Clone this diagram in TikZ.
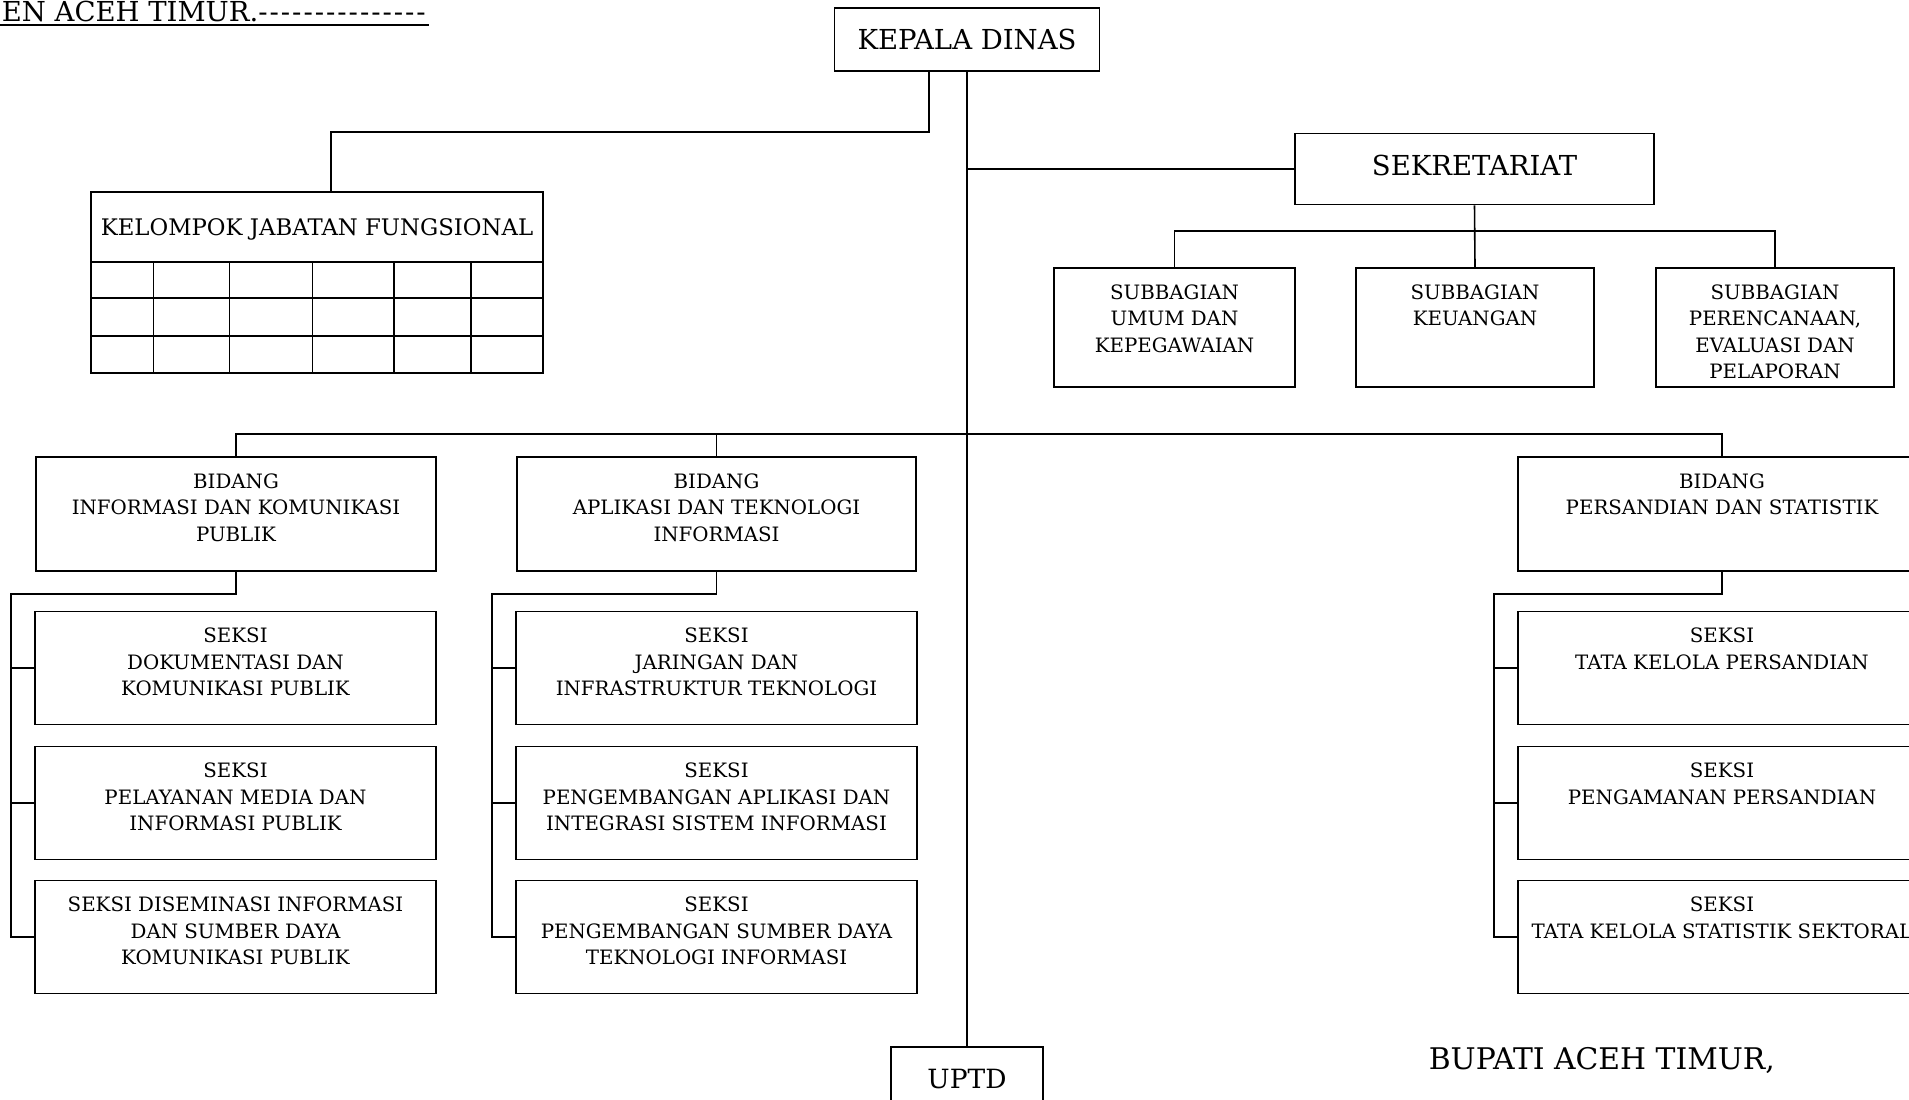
\documentclass[tikz,border=0pt]{standalone}
\usepackage{fontspec}
\setmainfont{DejaVu Serif}
\newcommand{\hurufkecil}{\fontsize{19.8}{26.5}\selectfont}
\newcommand{\hurufsedang}{\fontsize{22.8}{28}\selectfont}
\newcommand{\hurufbesar}{\fontsize{27.5}{33}\selectfont}

\begin{document}
\begin{tikzpicture}[x=1pt, y=-1pt, line width=1.6pt]
    \tikzset{kotak/.style={draw, inner sep=0pt, align=center},
      isi/.style={anchor=north, align=center, font=\hurufkecil,
        inner sep=0pt, yshift=-16.5pt}}
    \useasboundingbox (0,0) rectangle (1909,1100);
    \node[anchor=base west, inner sep=0pt, font=\hurufbesar] (judul) at (1,21.5)
      {EN ACEH TIMUR.\foreach \i in {1,...,15}{-\kern2pt}};
    \draw[line width=2pt] ([xshift=-1pt, yshift=-3.5pt]judul.base west) -- ([yshift=-3.5pt]judul.base east);
    \node[kotak, minimum width=265pt, minimum height=63pt, font=\hurufbesar] (kd) at (967,39.5) {KEPALA DINAS};
    \node[kotak, minimum width=359pt, minimum height=71pt, font=\hurufbesar, text depth=8pt] (sek) at (1474.5,169) {SEKRETARIAT};
    \node[kotak, minimum width=452pt, minimum height=70pt, font=\hurufsedang, text height=21pt] (kjf) at (317,227) {KELOMPOK JABATAN FUNGSIONAL};
    \draw (91,262) rectangle (543,373);
    \foreach \x in {153.6,229.5,312.5,393.8,471} \draw (\x,262) -- (\x,373);
    \foreach \y in {298,336} \draw (91,\y) -- (543,\y);
    \node[kotak, minimum width=241pt, minimum height=119pt,
      label={[isi]north:{SUBBAGIAN\\UMUM DAN\\KEPEGAWAIAN}}] (sub1) at (1174.5,327.5) {};
    \node[kotak, minimum width=238pt, minimum height=119pt,
      label={[isi]north:{SUBBAGIAN\\KEUANGAN}}] (sub2) at (1475,327.5) {};
    \node[kotak, minimum width=238pt, minimum height=119pt,
      label={[isi]north:{SUBBAGIAN\\PERENCANAAN,\\EVALUASI DAN\\PELAPORAN}}] (sub3) at (1775,327.5) {};
    \node[kotak, minimum width=400pt, minimum height=114pt,
      label={[isi]north:{BIDANG\\INFORMASI DAN KOMUNIKASI\\PUBLIK}}] (bidIKP) at (236,514) {};
    \node[kotak, minimum width=399pt, minimum height=114pt,
      label={[isi]north:{BIDANG\\APLIKASI DAN TEKNOLOGI\\INFORMASI}}] (bidATI) at (716.5,514) {};
    \node[kotak, minimum width=408pt, minimum height=114pt,
      label={[isi]north:{BIDANG\\PERSANDIAN DAN STATISTIK}}] (bidPS) at (1722,514) {};
    \node[kotak, minimum width=401pt, minimum height=113pt,
      label={[isi]north:{SEKSI\\DOKUMENTASI DAN\\KOMUNIKASI PUBLIK}}] (sIKP1) at (235.5,668) {};
    \node[kotak, minimum width=401pt, minimum height=113pt,
      label={[isi]north:{SEKSI\\PELAYANAN MEDIA DAN\\INFORMASI PUBLIK}}] (sIKP2) at (235.5,803) {};
    \node[kotak, minimum width=401pt, minimum height=113pt,
      label={[isi]north:{SEKSI DISEMINASI INFORMASI\\DAN SUMBER DAYA\\KOMUNIKASI PUBLIK}}] (sIKP3) at (235.5,937) {};
    \node[kotak, minimum width=401pt, minimum height=113pt,
      label={[isi]north:{SEKSI\\JARINGAN DAN\\INFRASTRUKTUR TEKNOLOGI}}] (sATI1) at (716.5,668) {};
    \node[kotak, minimum width=401pt, minimum height=113pt,
      label={[isi]north:{SEKSI\\PENGEMBANGAN APLIKASI DAN\\INTEGRASI SISTEM INFORMASI}}] (sATI2) at (716.5,803) {};
    \node[kotak, minimum width=401pt, minimum height=113pt,
      label={[isi]north:{SEKSI\\PENGEMBANGAN SUMBER DAYA\\TEKNOLOGI INFORMASI}}] (sATI3) at (716.5,937) {};
    \node[kotak, minimum width=408pt, minimum height=113pt,
      label={[isi]north:{SEKSI\\TATA KELOLA PERSANDIAN}}] (sPS1) at (1722,668) {};
    \node[kotak, minimum width=408pt, minimum height=113pt,
      label={[isi]north:{SEKSI\\PENGAMANAN PERSANDIAN}}] (sPS2) at (1722,803) {};
    \node[kotak, minimum width=408pt, minimum height=113pt,
      label={[isi]north:{SEKSI\\TATA KELOLA STATISTIK SEKTORAL}}] (sPS3) at (1722,937) {};
    \node[kotak, minimum width=152pt, minimum height=64pt, font=\fontsize{26.5}{32}\selectfont] (uptd) at (967,1079) {UPTD};
    \node[anchor=base west, inner sep=0pt, font=\fontsize{29.8}{35}\selectfont] (bupati) at (1428,1069) {BUPATI ACEH TIMUR,};
    \draw ([xshift=-38pt]kd.south) -- ++(0,60) -| ([xshift=14pt]kjf.north);
    \draw (kd.south) -- (uptd.north);
    \draw (sek.west) -- (sek.west -| kd.south);
    \draw (sek.south) -- (sub2.north);
    \draw (sub1.north) -- ++(0,-36) -| (sub3.north);
    \draw (bidIKP.north) -- ++(0,-22.5) -| (bidPS.north);
    \draw (bidATI.north) -- ++(0,-22.5);
    \foreach \k in {IKP,ATI,PS} {
      \draw (bid\k.south) -- ++(0,22) -| ([xshift=-23pt]s\k3.west) -- (s\k3.west);
      \draw (s\k1.west) -- ++(-23,0);
      \draw (s\k2.west) -- ++(-23,0);
    }
\end{tikzpicture}
\end{document}
